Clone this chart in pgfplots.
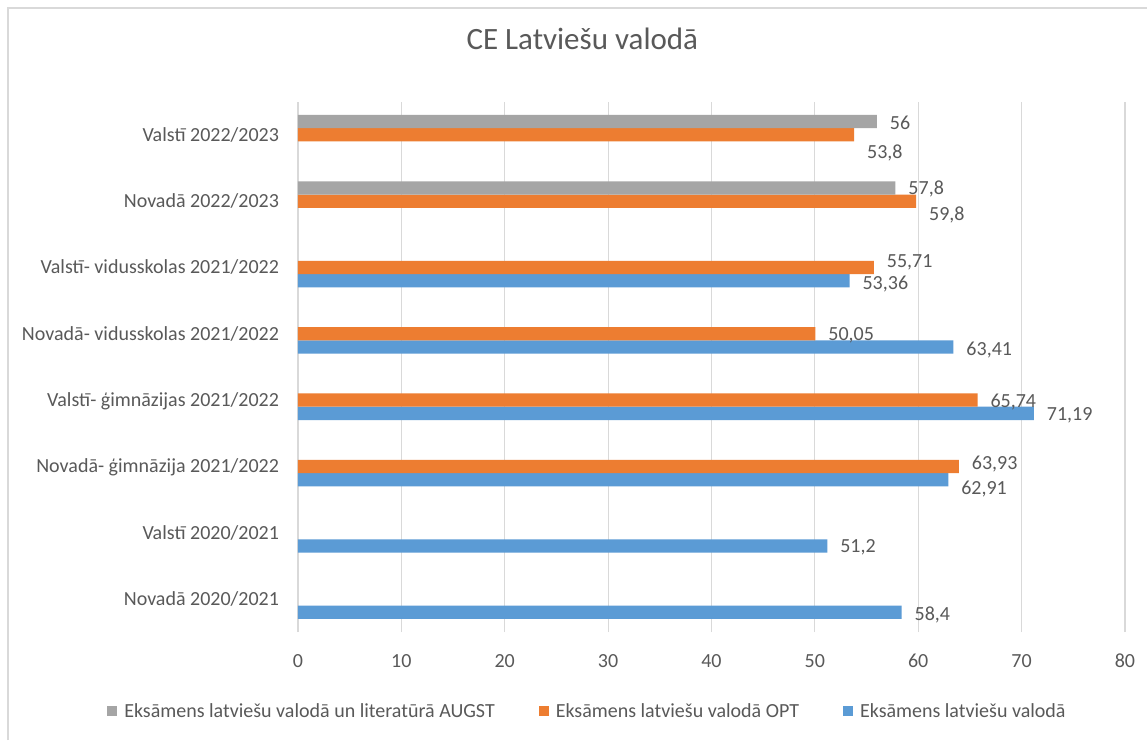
\documentclass[border=0pt]{standalone}
\usepackage{fontspec}
\setmainfont{Carlito}
\usepackage{pgfplots}
\usepackage{pgfplotstable}
\pgfplotsset{compat=1.18}
\definecolor{cblue}{HTML}{5B9BD5}
\definecolor{corange}{HTML}{ED7D31}
\definecolor{cgray}{HTML}{A5A5A5}
\definecolor{txt}{HTML}{595959}
\definecolor{gridc}{HTML}{D9D9D9}

\pgfplotstableread{
x y dy lbl
58.4 0 -1 58,4
51.2 1 0 51,2
62.91 2 -4.15 62,91
71.19 3 -0.5 71,19
63.41 4 -1 63,41
53.36 5 -1.15 53,36
}\blueT
\pgfplotstableread{
x y dy lbl
63.93 2 1.8 63,93
65.74 3 -0.7 65,74
50.05 4 -0.3 50,05
55.71 5 3.25 55,71
59.8 6 -6.3 59,8
53.8 7 -8.5 53,8
}\orangeT
\pgfplotstableread{
x y dy lbl
57.8 6 0 57,8
56 7 -0.7 56
}\grayT

\begin{document}
\begin{tikzpicture}
\path[use as bounding box, fill=white] (-149pt,316.1pt) rectangle (424.5pt,-53.9pt);
\draw[gridc, line width=0.6pt] (-145pt,-53.9pt) -- (-145pt,312.1pt) -- (424.5pt,312.1pt);
\begin{axis}[
  at={(0,0)}, anchor=south west,
  scale only axis, width=413.5pt, height=265.25pt,
  xbar, bar width=0.2,
  xmin=0, xmax=80, ymin=-0.5, ymax=7.5,
  xtick={0,10,...,80},
  ytick={0,...,7},
  yticklabels={Novadā 2020/2021, Valstī 2020/2021, Novadā- ģimnāzija 2021/2022, Valstī- ģimnāzijas 2021/2022, Novadā- vidusskolas 2021/2022, Valstī- vidusskolas 2021/2022, Novadā 2022/2023, Valstī 2022/2023},
  axis line style={draw=none},
  major tick length=0pt,
  xmajorgrids=true, ymajorgrids=false,
  major grid style={draw=gridc, line width=0.6pt},
  /pgf/number format/assume math mode=true,
  tick label style={font=\fontsize{10}{12}\selectfont, text=txt},
  xticklabel style={anchor=center, inner sep=0pt, text height=6.3pt, text depth=0pt, yshift=-14.25pt},
  yticklabel style={anchor=east, inner sep=0pt, xshift=-9.3pt, text height=6.3pt, text depth=0pt},
  title={CE Latviešu valodā},
  title style={at={(0.3438,1.0943)}, anchor=center, font=\fontsize{15.5}{18}\selectfont, text=txt, inner sep=0pt, text height=10pt, text depth=0pt},
  point meta=explicit symbolic,
  visualization depends on={\thisrow{dy} \as \labdy},
  nodes near coords,
  every node near coord/.append style={anchor=west, inner sep=0pt, xshift=6.3pt, yshift=\labdy pt, text height=6.3pt, text depth=0pt, font=\fontsize{10}{12}\selectfont, text=txt},
  legend columns=3, reverse legend,
  legend cell align=left,
  legend style={draw=none, fill=none, at={(0.3488,-0.1485)}, anchor=center, inner sep=0pt,
    font=\fontsize{10}{12}\selectfont, text=txt,
    nodes={inner sep=0pt, text height=6.3pt, text depth=0pt},
    column sep=3.5pt,
    /tikz/every even column/.append style={column sep=22pt}},
  legend image code/.code={\fill[#1, draw=none] (0pt,-2.5pt) rectangle (5pt,2.5pt);},
]
\addplot[fill=cblue, draw=none, bar shift=-0.2] table[x=x, y=y, meta=lbl] {\blueT};
\addlegendentry{Eksāmens latviešu valodā}
\addplot[fill=corange, draw=none, bar shift=0] table[x=x, y=y, meta=lbl] {\orangeT};
\addlegendentry{Eksāmens latviešu valodā OPT}
\addplot[fill=cgray, draw=none, bar shift=0.2] table[x=x, y=y, meta=lbl] {\grayT};
\addlegendentry{Eksāmens latviešu valodā un literatūrā AUGST}
\end{axis}
\end{tikzpicture}
\end{document}
